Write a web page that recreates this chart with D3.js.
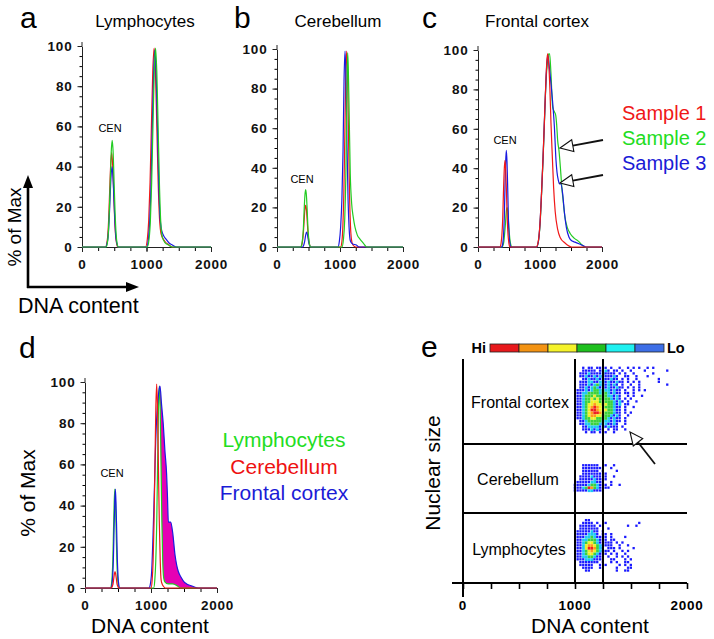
<!DOCTYPE html>
<html><head><meta charset="utf-8">
<script src="https://cdn.jsdelivr.net/npm/d3@7"></script>
<style>
body{margin:0;background:#fff;}
svg{display:block;font-family:"Liberation Sans",Arial,Helvetica,sans-serif;}
</style></head><body>
<svg id="chart" width="714" height="639"></svg>
<script>
// ---------------- DATA ----------------
const dnaTicks = [0, 1000, 2000];
const dnaMinorTicks = [0, 250, 500, 750, 1000, 1250, 1500, 1750, 2000];
const pctTicks = [0, 20, 40, 60, 80, 100];
const pctMinorTicks = d3.range(0, 101, 5);
const panelTitles = ["Lymphocytes", "Cerebellum", "Frontal cortex"];
const sampleLabels = ["Sample 1", "Sample 2", "Sample 3"];
const tissueLabels = ["Lymphocytes", "Cerebellum", "Frontal cortex"];
const heatLabels = ["Hi", "Lo"];
const heatColors = ["#e8191c", "#f39313", "#f5f22a", "#1fc01f", "#1ff0f0", "#3d6ee6"];

// Panel a (Lymphocytes): [DNA content, % of Max]
const aSample1 = [[0,0],[365,0],[385,2],[400,6],[415,15],[430,29],[445,41],[460,47],[475,41],[490,29],[505,15],[520,6],[535,2],[555,0],[985,0],[1013,4],[1034,13],[1055,32],[1076,60],[1097,87],[1118,99],[1139,87],[1160,60],[1181,32],[1202,14],[1230,6],[1280,3],[1350,1],[1400,0],[2000,0]];
const aSample2 = [[0,0],[373,0],[393,2],[408,7],[423,17],[438,32],[453,47],[468,53],[483,47],[498,32],[513,17],[528,7],[543,2],[563,0],[1012,0],[1040,4],[1060,13],[1080,32],[1100,60],[1120,87],[1140,99],[1160,87],[1180,60],[1200,32],[1220,13],[1245,5],[1290,2],[1340,1],[1400,0],[2000,0]];
const aSample3 = [[0,0],[370,0],[390,2],[405,5],[420,13],[435,24],[450,35],[465,40],[480,35],[495,24],[510,13],[525,5],[540,2],[560,0],[1002,0],[1030,4],[1050,13],[1070,31],[1090,60],[1110,86],[1130,98],[1150,86],[1170,60],[1190,32],[1210,15],[1230,9],[1260,6],[1300,4],[1350,2],[1400,1],[1460,0],[2000,0]];

// Panel b (Cerebellum)
const bSample1 = [[0,0],[375,0],[392,1],[405,3],[418,7],[430,13],[443,19],[455,21],[467,19],[480,13],[492,7],[505,3],[518,1],[535,0],[1010,0],[1031,3],[1046,11],[1061,27],[1076,55],[1091,86],[1106,99],[1121,86],[1136,55],[1151,27],[1166,11],[1181,4],[1205,1],[1250,0],[2000,0]];
const bSample2 = [[0,0],[375,0],[392,1],[405,4],[418,9],[430,18],[443,26],[455,29],[467,26],[480,18],[492,9],[505,4],[518,1],[535,0],[1030,0],[1055,4],[1075,14],[1092,35],[1105,65],[1114,88],[1122,98],[1132,90],[1145,68],[1163,37],[1185,22],[1211,15],[1238,10],[1275,6],[1317,4],[1370,2],[1424,0],[2000,0]];
const bSample3 = [[0,0],[405,0],[425,1],[440,3],[455,6],[470,7.5],[485,6],[500,3],[515,1],[535,0],[968,0],[990,3],[1010,10],[1030,24],[1048,48],[1064,84],[1080,99],[1096,84],[1112,50],[1128,24],[1144,10],[1165,3],[1200,1.5],[1260,1],[1300,0],[2000,0]];

// Panel c (Frontal cortex)
const cSample1 = [[0,0],[355,0],[372,2],[385,6],[398,14],[410,27],[423,39],[435,44],[447,39],[460,27],[472,14],[485,6],[498,2],[515,0],[940,0],[973,3],[1000,12],[1027,29],[1050,46],[1070,63],[1097,86],[1115,96],[1124,98],[1140,93],[1160,80],[1177,63],[1200,45],[1220,30],[1245,18],[1285,9],[1323,5],[1403,2],[1510,0],[2000,0]];
const cSample2 = [[0,0],[390,0],[405,1],[418,3],[430,7],[443,12],[456,18],[468,20],[480,18],[493,12],[505,7],[518,3],[530,1],[548,0],[945,0],[975,3],[1000,11],[1027,28],[1050,45],[1070,62],[1097,84],[1120,94],[1140,98],[1155,98],[1177,88],[1204,71],[1226,69],[1253,67],[1269,62],[1285,54],[1306,49],[1330,40],[1350,31],[1375,23],[1403,15],[1440,10],[1484,7],[1550,4.5],[1618,3],[1680,1],[1720,0],[2000,0]];
const cSample3 = [[0,0],[385,0],[400,2],[412,6],[424,15],[435,30],[446,43],[457,49],[468,43],[479,30],[490,15],[502,6],[514,2],[530,0],[945,0],[975,3],[1000,12],[1027,29],[1050,46],[1070,63],[1097,85],[1115,95],[1130,97],[1145,93],[1161,88],[1180,82],[1200,75],[1232,61],[1258,44],[1274,38],[1295,34],[1315,32],[1333,32],[1366,27],[1392,18],[1425,10],[1468,5],[1520,3],[1565,2.5],[1640,1.5],[1710,0.5],[1740,0],[2000,0]];

// Panel d (overlay of tissues)
const dLymphocytes = [[0,0],[388,0],[402,2],[412,6],[422,14],[432,28],[442,41],[452,48],[462,41],[472,28],[482,14],[492,6],[502,2],[518,0],[1040,0],[1058,4],[1072,13],[1087,32],[1100,60],[1113,87],[1126,98],[1139,87],[1152,60],[1165,32],[1178,13],[1192,5],[1210,3],[1260,2],[1330,2],[1400,1],[1450,0],[2000,0]];
const dCerebellum = [[0,0],[400,0],[415,1],[425,2],[437,5],[446,7],[455,8],[464,7],[473,5],[485,2],[495,1],[510,0],[1000,0],[1018,4],[1032,13],[1046,32],[1060,60],[1073,87],[1086,99],[1099,87],[1112,60],[1126,32],[1140,13],[1153,4],[1168,2],[1185,1],[1215,0],[2000,0]];
const dFrontal = [[0,0],[395,0],[410,2],[420,6],[430,14],[440,28],[450,41],[460,48],[470,41],[480,28],[490,14],[500,6],[510,2],[525,0],[975,0],[985,1],[1010,8],[1035,30],[1055,52],[1071,71],[1090,85],[1111,93],[1126,97],[1136,98],[1160,89],[1187,79],[1210,67],[1237,55],[1250,44],[1263,32],[1280,32],[1298,32],[1328,27],[1364,16],[1390,11],[1414,8],[1460,5],[1500,3],[1540,2],[1620,1],[1717,0],[2000,0]];

// Panel e: density grids (25 DNA units x 1.25 size units per cell); 1=blue ... 6=red
const eFrontalGrid = [
  "..1.11.11.1.1..1..1.1.1..1.1..",
  "..11111.1121.11.1..1....1.......1",
  ".1112111121111.1.1..1......1....",
  ".11211212111121..11..1...1.......",
  "..1121121211211.1.1..1.......1..",
  ".1112211221211211.1.1.1......1...",
  ".11121232212121.1..1..1.........1",
  ".1121232121211211.1.1.1..........",
  "1112123323221211.1..1.1.1........",
  "1122333323321211.11.1...........",
  "1123334333322121..1.1..1.........",
  "1123343433332121.1.1.............",
  "11233444343332121.1..1...........",
  "1123445443433212.11..............",
  "1123456544333211.1..1............",
  "1123466544433211.1...............",
  "1123456654333211.1.1.............",
  "1123455443332121..1..............",
  "1123344333321211.1...............",
  ".112333332221211.1...............",
  ".11223332121121..1...............",
  "..1122221212111.1................",
  "..11121211.1.11..1...............",
  "...1.11.1.1..1..................."
];
const eCerebellumGrid = [
  "...111111..1..1",
  "...1111111...1....",
  "...111111.1....1.",
  "...1111111.1......",
  "..11112111.1..1...",
  "..1111121111......",
  ".1111122111..1....",
  "111112332111.1..1.",
  "1112365321111.....",
  "11111221111......."
];
const eLymphocyteGrid = [
  "....11..........",
  "...1111.1..1...........1",
  "..111111.1.........1..1.",
  "..1111111...1...........",
  ".11111211.1.............",
  ".11112221.11.1..........",
  ".11122321111.1....1.....",
  ".11223332111.11.........",
  ".1123443211111.1.1......",
  ".1124554321111..1..1....",
  ".1124665321.111.1....1..",
  ".112345432111.1..1.1....",
  ".11234432111.1.1..1.....",
  ".1122332111.1..1.1.1....",
  ".1112221111..11...1.1...",
  "..1111111.1..1.1..11....",
  "..11111..1.1....1.1.1...",
  "...1111..1.....1...11...",
  "....11.........1..11...."
];
const gridStarts = {frontal:[1025, 96], cerebellum:[1000, 52.5], lymph:[1000, 28]};
const dotColors = {"1":"#1a1aff","2":"#1cc8f4","3":"#3cd23c","4":"#eef028","5":"#ff9a1a","6":"#ee2020"};

// ---------------- DRAWING ----------------
const svg = d3.select("#chart");
const RED = "#f01818", GREEN = "#22cc22", BLUE = "#1a1ae0";
const FONT = '"Liberation Sans", Arial, Helvetica, sans-serif';
const fmt = d3.format("d");

function histPanel(cfg) {
  const x = d3.scaleLinear().domain([0, 2000]).range([cfg.x0, cfg.x1]);
  const y = d3.scaleLinear().domain([0, 100]).range([cfg.y0, cfg.y100]);
  const g = svg.append("g");
  const ym = g.append("g").attr("transform", `translate(${cfg.x0},0)`)
    .call(d3.axisLeft(y).tickValues(pctMinorTicks).tickSize(2.5).tickFormat(""));
  ym.select(".domain").remove();
  const xm = g.append("g").attr("transform", `translate(0,${cfg.y0})`)
    .call(d3.axisBottom(x).tickValues(dnaMinorTicks).tickSize(4).tickFormat(""));
  xm.select(".domain").remove();
  const ya = g.append("g").attr("transform", `translate(${cfg.x0},0)`)
    .call(d3.axisLeft(y).tickValues(pctTicks).tickSize(4.5).tickSizeOuter(0).tickPadding(5).tickFormat(fmt));
  const xa = g.append("g").attr("transform", `translate(0,${cfg.y0})`)
    .call(d3.axisBottom(x).tickValues(dnaTicks).tickSize(5).tickSizeOuter(0).tickPadding(7).tickFormat(fmt));
  [ya, xa].forEach(a => {
    a.selectAll("text").attr("font-size", 13.5).attr("font-weight", "bold")
      .attr("font-family", FONT).attr("letter-spacing", 0.8).attr("fill", "#111");
    a.selectAll("line,path").attr("stroke", "#222");
  });
  g.append("line").attr("x1", cfg.x0).attr("x2", cfg.x0).attr("y1", y(100)).attr("y2", y(100) - 4).attr("stroke", "#222");
  const line = d3.line().x(d => x(d[0])).y(d => y(d[1])).curve(d3.curveMonotoneX);
  if (cfg.fill) {
    const area = d3.area().x(d => x(d[0])).y0(y(0)).y1(d => y(d[1])).curve(d3.curveMonotoneX);
    const cid = "clipd";
    g.append("clipPath").attr("id", cid).append("rect")
      .attr("x", x(cfg.fill.from)).attr("y", 0).attr("width", 300).attr("height", 700);
    g.append("path").datum(cfg.fill.over).attr("d", area).attr("fill", "#e600b4").attr("clip-path", `url(#${cid})`);
    g.append("path").datum(cfg.fill.under).attr("d", area).attr("fill", "#fff").attr("clip-path", `url(#${cid})`);
  }
  cfg.series.forEach(s => {
    g.append("path").datum(s.data).attr("d", line).attr("fill", "none")
      .attr("stroke", s.color).attr("stroke-width", 1.2).attr("stroke-linejoin", "round");
  });
  g.append("text").attr("x", cfg.letterX).attr("y", cfg.letterY).text(cfg.letter)
    .attr("font-size", 30).attr("font-family", FONT);
  if (cfg.title) g.append("text").attr("x", cfg.titleX).attr("y", 27).attr("text-anchor", "middle")
    .attr("font-size", 17).attr("font-family", FONT).text(cfg.title);
  g.append("text").attr("x", cfg.cenX).attr("y", cfg.cenY).attr("text-anchor", "middle")
    .attr("font-size", 11).attr("font-family", FONT).text("CEN");
  return {x, y};
}

histPanel({x0:82, x1:211, y0:247, y100:46, letter:"a", letterX:20, letterY:28, title:panelTitles[0], titleX:145,
  cenX:110, cenY:132,
  series:[{data:aSample1,color:RED},{data:aSample3,color:BLUE},{data:aSample2,color:GREEN}]});
histPanel({x0:277, x1:403, y0:247, y100:49, letter:"b", letterX:234, letterY:28, title:panelTitles[1], titleX:338,
  cenX:302, cenY:183,
  series:[{data:bSample1,color:RED},{data:bSample3,color:BLUE},{data:bSample2,color:GREEN}]});
histPanel({x0:478, x1:602, y0:247, y100:50, letter:"c", letterX:422, letterY:28, title:panelTitles[2], titleX:537,
  cenX:505, cenY:144,
  series:[{data:cSample2,color:GREEN},{data:cSample3,color:BLUE},{data:cSample1,color:RED}]});
histPanel({x0:85, x1:217, y0:588, y100:382, letter:"d", letterX:19, letterY:358,
  cenX:112, cenY:477,
  fill:{from:1120, over:dFrontal, under:dLymphocytes},
  series:[{data:dLymphocytes,color:GREEN},{data:dFrontal,color:BLUE},{data:dCerebellum,color:RED}]});

const sampleColors = [RED, "#22dd22", "#1b1bd6"];
sampleLabels.forEach((s, i) => {
  svg.append("text").attr("x", 622).attr("y", 120 + i * 25).attr("font-size", 20)
    .attr("font-family", FONT).attr("fill", sampleColors[i]).text(s);
});
const tissueColors = ["#22dd22", "#ee1111", "#1b1bd6"];
tissueLabels.forEach((s, i) => {
  svg.append("text").attr("x", 284).attr("y", 447 + i * 26.5).attr("font-size", 21)
    .attr("text-anchor", "middle").attr("font-family", FONT).attr("fill", tissueColors[i]).text(s);
});

function openArrow(x1, y1, x2, y2, len, hw) {
  const a = Math.atan2(y2 - y1, x2 - x1);
  const bx = x2 - len * Math.cos(a), by = y2 - len * Math.sin(a);
  const px = -Math.sin(a) * hw, py = Math.cos(a) * hw;
  svg.append("line").attr("x1", x1).attr("y1", y1).attr("x2", bx).attr("y2", by)
    .attr("stroke", "#111").attr("stroke-width", 1.8);
  svg.append("path").attr("d", `M${x2},${y2}L${bx + px},${by + py}L${bx - px},${by - py}Z`)
    .attr("fill", "#fff").attr("stroke", "#111").attr("stroke-width", 1.1);
}
openArrow(603, 140, 560, 148, 13, 6);
openArrow(603, 175, 560, 183, 13, 6);

svg.append("line").attr("x1", 28).attr("y1", 288).attr("x2", 28).attr("y2", 186).attr("stroke", "#000").attr("stroke-width", 2.6);
svg.append("path").attr("d", "M28,175L23,188L33,188Z").attr("fill", "#000");
svg.append("line").attr("x1", 27).attr("y1", 287).attr("x2", 128).attr("y2", 287).attr("stroke", "#000").attr("stroke-width", 2.6);
svg.append("path").attr("d", "M139,287L126,282L126,292Z").attr("fill", "#000");
svg.append("text").attr("transform", "translate(21,227) rotate(-90)").attr("text-anchor", "middle")
  .attr("font-size", 19).attr("font-family", FONT).text("% of Max");
svg.append("text").attr("x", 18).attr("y", 313).attr("font-size", 21.5).attr("font-family", FONT).text("DNA content");
svg.append("text").attr("transform", "translate(35,493) rotate(-90)").attr("text-anchor", "middle")
  .attr("font-size", 21).attr("font-family", FONT).text("% of Max");
svg.append("text").attr("x", 150).attr("y", 633).attr("text-anchor", "middle").attr("font-size", 21).attr("font-family", FONT).text("DNA content");

// ---------------- PANEL E ----------------
const xE = d3.scaleLinear().domain([0, 2000]).range([463, 687]);
const yE = d3.scaleLinear().domain([0, 100]).range([583, 359]);
const ge = svg.append("g");
function cellsFrom(rows, start) {
  const out = [];
  rows.forEach((row, j) => {
    for (let i = 0; i < row.length; i++) {
      const c = row[i];
      if (c !== ".") out.push({dna: start[0] + i * 25, ns: start[1] - j * 1.25, lvl: c});
    }
  });
  return out;
}
const cells = [].concat(
  cellsFrom(eFrontalGrid, gridStarts.frontal),
  cellsFrom(eCerebellumGrid, gridStarts.cerebellum),
  cellsFrom(eLymphocyteGrid, gridStarts.lymph));
ge.selectAll("rect.cell").data(cells).join("rect").attr("class", "cell")
  .attr("x", d => xE(d.dna) - 1.3).attr("y", d => yE(d.ns) - 1.3)
  .attr("width", d => d.lvl === "1" ? 2.3 : 2.8).attr("height", d => d.lvl === "1" ? 2.3 : 2.8)
  .attr("fill", d => dotColors[d.lvl]);

const dividers = [62, 31.25];
dividers.forEach(v => ge.append("line").attr("x1", xE(0)).attr("x2", xE(2000)).attr("y1", yE(v)).attr("y2", yE(v))
  .attr("stroke", "#000").attr("stroke-width", 2));
[1000, 1250].forEach(v => ge.append("line").attr("x1", xE(v)).attr("x2", xE(v)).attr("y1", yE(100)).attr("y2", yE(0))
  .attr("stroke", "#000").attr("stroke-width", 2));
ge.append("line").attr("x1", xE(0)).attr("x2", xE(0)).attr("y1", yE(100)).attr("y2", yE(0) + 14).attr("stroke", "#000").attr("stroke-width", 2);
ge.append("line").attr("x1", xE(0) - 11).attr("x2", xE(2000)).attr("y1", yE(0)).attr("y2", yE(0)).attr("stroke", "#000").attr("stroke-width", 2);
const xeAxis = ge.append("g").attr("transform", `translate(0,${yE(0)})`)
  .call(d3.axisBottom(xE).tickValues(dnaMinorTicks).tickSize(6).tickFormat(""));
xeAxis.select(".domain").remove();
xeAxis.selectAll("line").attr("stroke", "#000").attr("stroke-width", 1.6);
dnaTicks.forEach(v => ge.append("text").attr("x", xE(v)).attr("y", 610).attr("text-anchor", "middle")
  .attr("font-size", 13.5).attr("font-weight", "bold").attr("letter-spacing", 0.8).attr("font-family", FONT).text(fmt(v)));
ge.append("text").attr("x", 590).attr("y", 633).attr("text-anchor", "middle").attr("font-size", 21).attr("font-family", FONT).text("DNA content");
ge.append("text").attr("transform", "translate(440,473) rotate(-90)").attr("text-anchor", "middle")
  .attr("font-size", 21).attr("font-family", FONT).text("Nuclear size");
ge.append("text").attr("x", 421).attr("y", 357).attr("font-size", 30).attr("font-family", FONT).text("e");
const rowLabelPos = [[519, 555], [518, 485], [520, 408]];
tissueLabels.forEach((s, i) => ge.append("text").attr("x", rowLabelPos[i][0]).attr("y", rowLabelPos[i][1])
  .attr("text-anchor", "middle").attr("font-size", 16).attr("font-family", FONT).text(s));
const barX = d3.scaleBand().domain(d3.range(heatColors.length)).range([490, 664]).padding(0);
ge.selectAll("rect.heat").data(heatColors).join("rect").attr("class", "heat")
  .attr("x", (d, i) => barX(i)).attr("y", 344).attr("width", barX.bandwidth()).attr("height", 8)
  .attr("fill", d => d).attr("stroke", "#222").attr("stroke-width", 0.8);
ge.append("text").attr("x", 486).attr("y", 353).attr("text-anchor", "end").attr("font-size", 14.5).attr("font-weight", "bold").attr("font-family", FONT).text(heatLabels[0]);
ge.append("text").attr("x", 667).attr("y", 353).attr("font-size", 14.5).attr("font-weight", "bold").attr("font-family", FONT).text(heatLabels[1]);
openArrow(655, 464, 630, 432, 13, 6);
</script>
</body></html>
